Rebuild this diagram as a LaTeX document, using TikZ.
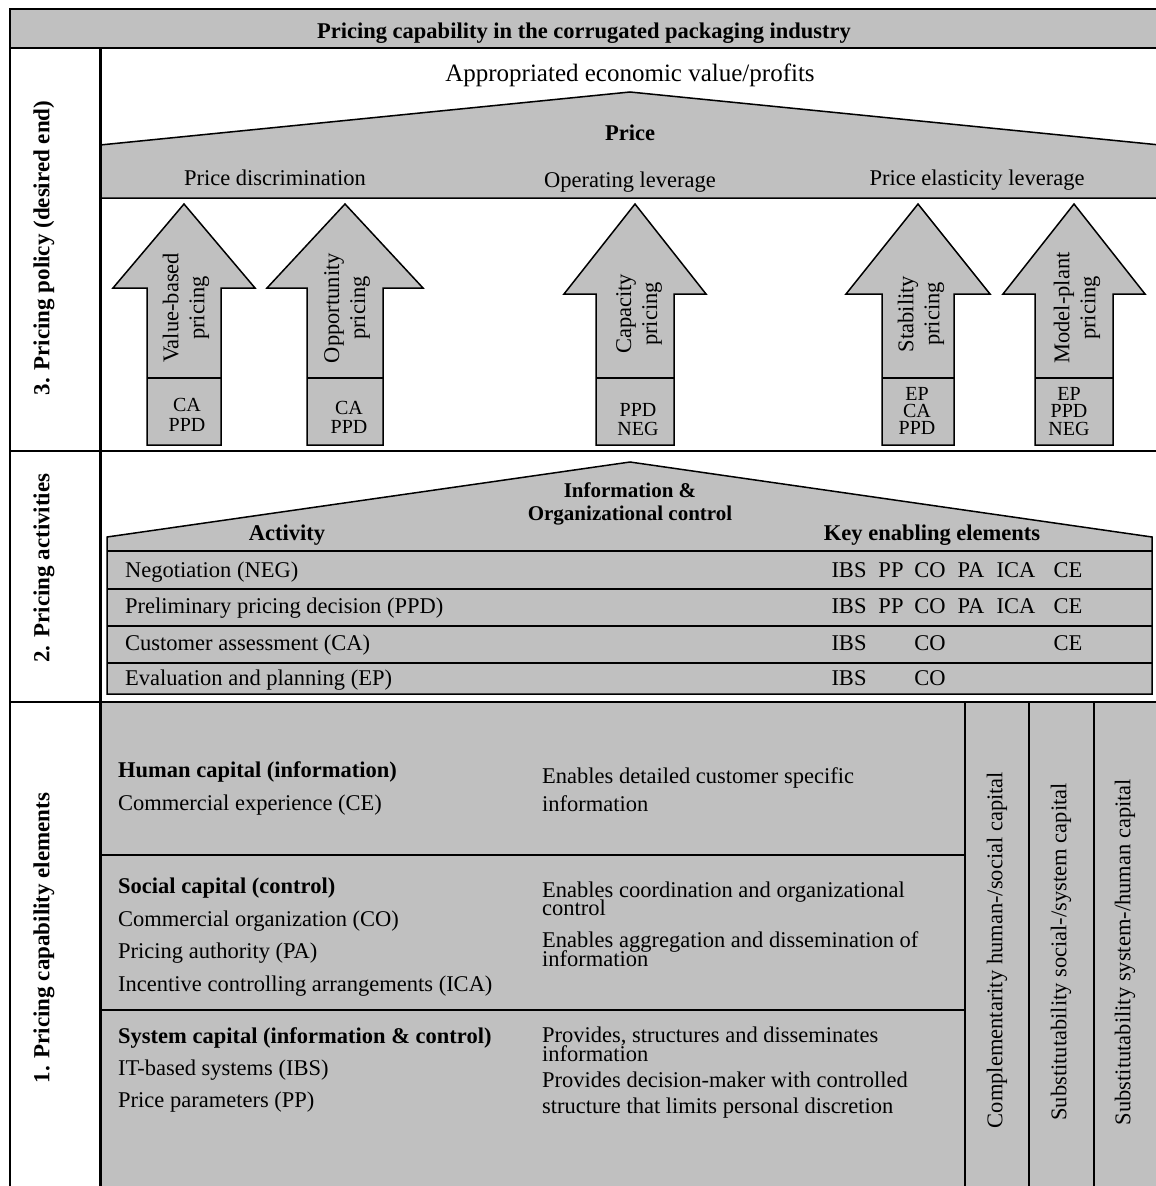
\documentclass[tikz,border=0pt]{standalone}
\usepackage{fontspec}
\setmainfont{Liberation Serif}
\definecolor{pgray}{RGB}{192,192,192}
\begin{document}
\begin{tikzpicture}[x=1pt,y=-1pt,
  tx/.style={inner sep=0pt,anchor=base west,font=\fontsize{22.5}{27}\selectfont},
  tbx/.style={inner sep=0pt,anchor=base west,font=\fontsize{22.5}{27}\selectfont\bfseries},
  tc/.style={inner sep=0pt,anchor=base,font=\fontsize{22.5}{27}\selectfont},
  tbc/.style={inner sep=0pt,anchor=base,font=\fontsize{22.5}{27}\selectfont\bfseries},
  vlab/.style={inner sep=0pt,rotate=90,font=\fontsize{23}{27}\selectfont\bfseries},
  vcap/.style={inner sep=0pt,rotate=90,font=\fontsize{22.5}{27}\selectfont},
  arrtxt/.style={inner sep=0pt,rotate=90,align=center,font=\fontsize{22.5}{26}\selectfont},
  boxlbl/.style={inner sep=0pt,anchor=base,font=\fontsize{20}{20}\selectfont},
  gbox/.style={draw=black,fill=pgray,line width=1.5pt,line join=miter},
  thinline/.style={line width=1.5pt},
  rowline/.style={line width=2pt},
  sepline/.style={line width=2pt}
]
\useasboundingbox (0,0) rectangle (1156,1186);

% ---------- fills ----------
\draw[gbox] (10,9) rectangle (1160,48);
\draw[gbox] (100,145) -- (630,92) -- (1160,145) -- (1160,198) -- (100,198) -- cycle;
\fill[pgray] (100,702) rectangle (1160,1190);

% ---------- section 3: arrows ----------
\foreach \cx/\hb/\hw/\sw in {184/288/71/37,345/288/78/38,635/294/71/39,918/294/72/36,1074/294/71/39} {
  \draw[gbox] ({\cx-\sw},445) -- ({\cx-\sw},\hb) -- ({\cx-\hw},\hb) -- (\cx,204)
     -- ({\cx+\hw},\hb) -- ({\cx+\sw},\hb) -- ({\cx+\sw},445) -- cycle;
  \draw[thinline] ({\cx-\sw},378) -- ({\cx+\sw},378);
}

% ---------- section 2: house ----------
\draw[gbox] (107,537) -- (630,462) -- (1152,537) -- (1152,694) -- (107,694) -- cycle;
\foreach \yy in {551,589,626,663} \draw[rowline] (107,\yy) -- (1152,\yy);

% ---------- section 1: grid ----------
\draw[sepline] (100,855) -- (965,855);
\draw[sepline] (100,1010) -- (965,1010);
\foreach \xx in {965,1029,1094} \draw[sepline] (\xx,702) -- (\xx,1190);

% ---------- frame ----------
\draw[thinline] (10,9) -- (10,1190);
\draw[sepline] (10,451) -- (1160,451);
\draw[sepline] (10,702) -- (1160,702);
\draw[line width=3pt] (100,48) -- (100,1190);

% ---------- texts: title ----------
\node[tbc] (title) at (584,38) {Pricing capability in the corrugated packaging industry};

% ---------- left labels ----------
\node[vlab] (s3) at (44,248) {3. Pricing policy (desired end)};
\node[vlab] (s2) at (44,568) {2. Pricing activities};
\node[vlab] (s1) at (44,938) {1. Pricing capability elements};

% ---------- section 3 texts ----------
\node[tc,font=\fontsize{25}{30}\selectfont] (value) at (630,81) {Appropriated economic value/profits};
\node[tbc] (price) at (630,140) {Price};
\node[tc] (pdisc) at (275,185) {Price discrimination};
\node[tc] (oplev) at (630,187) {Operating leverage};
\node[tc] (pelast) at (977,185) {Price elasticity leverage};

\node[arrtxt] (t1) at (186,308) {Value-based\\pricing};
\node[arrtxt] (t2) at (347,308) {Opportunity\\pricing};
\node[arrtxt] (t3) at (639,314) {Capacity\\pricing};
\node[arrtxt] (t4) at (921,314) {Stability\\pricing};
\node[arrtxt] (t5) at (1077,308) {Model-plant\\pricing};

\node[boxlbl] (a1a) at (187,411) {CA};
\node[boxlbl] (a1b) at (187,431) {PPD};
\node[boxlbl] (a2a) at (349,414) {CA};
\node[boxlbl] (a2b) at (349,433) {PPD};
\node[boxlbl] (a3a) at (638,416) {PPD};
\node[boxlbl] (a3b) at (638,435) {NEG};
\node[boxlbl] (a4a) at (917,400) {EP};
\node[boxlbl] (a4b) at (917,417) {CA};
\node[boxlbl] (a4c) at (917,434) {PPD};
\node[boxlbl] (a5a) at (1069,400) {EP};
\node[boxlbl] (a5b) at (1069,417) {PPD};
\node[boxlbl] (a5c) at (1069,435) {NEG};

% ---------- section 2 texts ----------
\node[tbc,font=\fontsize{21}{24}\selectfont\bfseries] (info1) at (630,497) {Information \&};
\node[tbc,font=\fontsize{21}{24}\selectfont\bfseries] (info2) at (630,520) {Organizational control};
\node[tbc] (activity) at (287,540) {Activity};
\node[tbc] (keyel) at (932,540) {Key enabling elements};

\node[tx] (neg) at (125,577) {Negotiation (NEG)};
\node[tx] (ppd) at (125,613) {Preliminary pricing decision (PPD)};
\node[tx] (ca) at (125,650) {Customer assessment (CA)};
\node[tx] (ep) at (125,685) {Evaluation and planning (EP)};

\foreach \r/\yy in {1/577,2/613} {
  \foreach \k/\xx in {IBS/849,PP/891,CO/930,PA/971,ICA/1016,CE/1068}
    \node[tc] (k\r\k) at (\xx,\yy) {\k};
}
\node[tc] (k3IBS) at (849,650) {IBS};
\node[tc] (k3CO) at (930,650) {CO};
\node[tc] (k3CE) at (1068,650) {CE};
\node[tc] (k4IBS) at (849,685) {IBS};
\node[tc] (k4CO) at (930,685) {CO};

% ---------- section 1 texts ----------
\node[tbx] (hc) at (118,777) {Human capital (information)};
\node[tx] (ce) at (118,810) {Commercial experience (CE)};
\node[tbx] (sc) at (118,893) {Social capital (control)};
\node[tx] (co) at (118,926) {Commercial organization (CO)};
\node[tx] (pa) at (118,958) {Pricing authority (PA)};
\node[tx] (ica) at (118,991) {Incentive controlling arrangements (ICA)};
\node[tbx] (syc) at (118,1043) {System capital (information \& control)};
\node[tx] (ibs) at (118,1075) {IT-based systems (IBS)};
\node[tx] (pp) at (118,1107) {Price parameters (PP)};

\node[tx] (r1a) at (542,783) {Enables detailed customer specific};
\node[tx] (r1b) at (542,811) {information};
\node[tx] (r2a) at (542,897) {Enables coordination and organizational};
\node[tx] (r2b) at (542,915) {control};
\node[tx] (r2c) at (542,947) {Enables aggregation and dissemination of};
\node[tx] (r2d) at (542,966) {information};
\node[tx] (r3a) at (542,1042) {Provides, structures and disseminates};
\node[tx] (r3b) at (542,1061) {information};
\node[tx] (r3c) at (542,1087) {Provides decision-maker with controlled};
\node[tx] (r3d) at (542,1113) {structure that limits personal discretion};

\node[vcap] (comp) at (997,950) {Complementarity human-/social capital};
\node[vcap] (sub1) at (1061,952) {Substitutability social-/system capital};
\node[vcap] (sub2) at (1125,952) {Substitutability system-/human capital};
\end{tikzpicture}
\end{document}
